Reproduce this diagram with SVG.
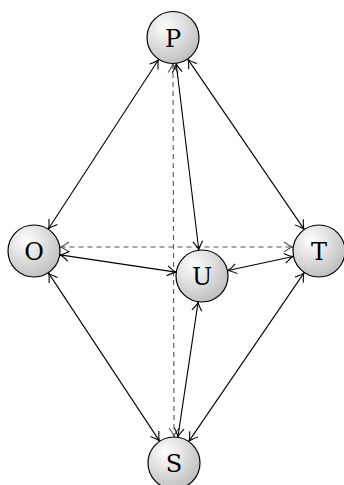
<svg xmlns="http://www.w3.org/2000/svg" width="344" height="485" viewBox="0 0 344 485">
<style>
.edge{fill:none;stroke:#000;stroke-width:1.1;marker-start:url(#arr);marker-end:url(#arr)}
.dash{fill:none;stroke:#555;stroke-width:1.1;stroke-dasharray:5 4;marker-start:url(#arrg);marker-end:url(#arrg)}
.node circle{fill:url(#g);stroke:#000;stroke-width:1.2}
.node text{font-family:"DejaVu Serif","Liberation Serif",serif;font-size:24px;text-anchor:middle;fill:#000}
</style>
<defs>
<radialGradient id="g" cx="0.35" cy="0.3" r="0.75">
<stop offset="0" stop-color="#ffffff"/>
<stop offset="1" stop-color="#bdbdbd"/>
</radialGradient>
<marker id="arr" viewBox="-10 -6 12 12" refX="0" refY="0" markerWidth="12" markerHeight="12" markerUnits="userSpaceOnUse" orient="auto-start-reverse">
<path d="M-8.5,-5 Q-3,-1 0,0 Q-3,1 -8.5,5" fill="none" stroke="#000" stroke-width="1.1"/>
</marker>
<marker id="arrg" viewBox="-10 -6 12 12" refX="0" refY="0" markerWidth="12" markerHeight="12" markerUnits="userSpaceOnUse" orient="auto-start-reverse">
<path d="M-8.5,-5 Q-3,-1 0,0 Q-3,1 -8.5,5" fill="none" stroke="#555" stroke-width="1.1"/>
</marker>
</defs>
<g id="connectors">
<line class="dash" x1="173" y1="64" x2="174" y2="436.5"/>
<line class="dash" x1="60.5" y1="247" x2="292.5" y2="247"/>
<line class="edge" x1="158.5" y1="59.7" x2="48.5" y2="228.8"/>
<line class="edge" x1="188" y1="59.4" x2="304" y2="229.1"/>
<line class="edge" x1="176.2" y1="63.8" x2="198.8" y2="249.7"/>
<line class="edge" x1="60.2" y1="254.9" x2="175.8" y2="272.1"/>
<line class="edge" x1="293.1" y1="256.5" x2="227.9" y2="270.5"/>
<line class="edge" x1="48.6" y1="273.1" x2="159.4" y2="440.9"/>
<line class="edge" x1="304" y1="272.9" x2="189" y2="441.1"/>
<line class="edge" x1="198.1" y1="302.2" x2="177.9" y2="436.8"/>
</g>
<g id="P" class="node"><circle cx="173" cy="37.5" r="26"/><text x="173" y="46.5">P</text></g>
<g id="O" class="node"><circle cx="34" cy="251" r="26"/><text x="34" y="260">O</text></g>
<g id="U" class="node"><circle cx="202" cy="276" r="26"/><text x="202" y="285">U</text></g>
<g id="T" class="node"><circle cx="319" cy="251" r="26"/><text x="319" y="260">T</text></g>
<g id="S" class="node"><circle cx="174" cy="463" r="26"/><text x="174" y="472">S</text></g>
</svg>
